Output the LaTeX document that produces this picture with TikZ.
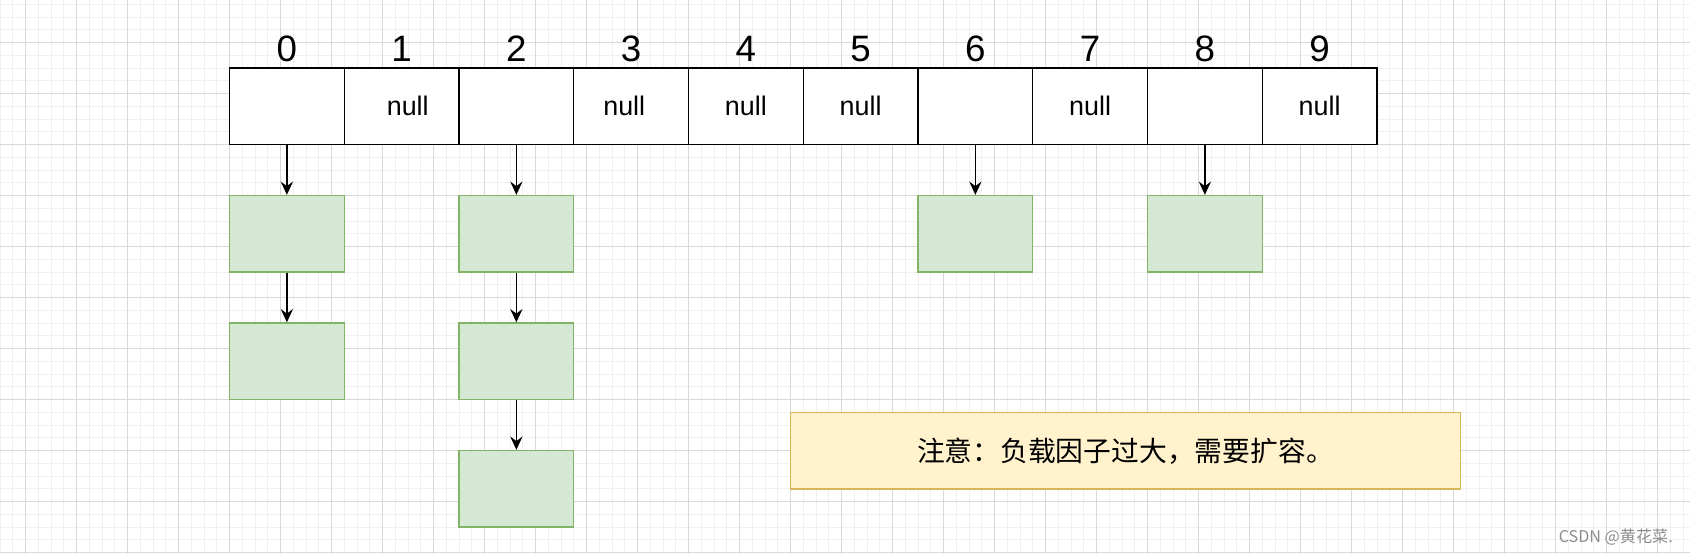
\documentclass[tikz,border=0pt]{standalone}
\usepackage{fontspec}
\setmainfont{Liberation Sans}
\newfontfamily\cjkfont{Noto Sans CJK SC}
\usetikzlibrary{arrows.meta}

\definecolor{gridminor}{HTML}{F0F0F0}
\definecolor{gridmajor}{HTML}{D9D9D9}
\definecolor{entryfill}{HTML}{D5E8D4}
\definecolor{entryline}{HTML}{82B366}
\definecolor{notefill}{HTML}{FFF2CC}
\definecolor{noteline}{HTML}{D6B656}
\definecolor{markgray}{HTML}{8C8C8C}

\begin{document}
\begin{tikzpicture}[x=0.25cm, y=0.25cm, line width=0.7pt,
          cell/.style={draw=black, fill=white, minimum width=2.25cm, minimum height=1.5cm,
            inner sep=0pt, font=\fontsize{15}{18}\selectfont},
          idx/.style={anchor=base, inner sep=0pt, font=\fontsize{20.5}{24}\selectfont},
          entry/.style={draw=entryline, fill=entryfill, minimum width=2.25cm, minimum height=1.5cm,
            inner sep=0pt},
          link/.style={-{Stealth[length=2.6mm, width=2.4mm, inset=0.9mm]}},
          note/.style={draw=noteline, fill=notefill, minimum width=13.125cm, minimum height=1.5cm,
            inner sep=0pt, font=\cjkfont\fontsize{15.5}{18}\selectfont},
          wmark/.style={anchor=base, inner sep=0pt, text=markgray, font=\cjkfont\fontsize{9}{11}\selectfont},
        ]
          \useasboundingbox (0,0) rectangle (132.55,-43.45);
          \fill[white] (0,0) rectangle (132.55,-43.45);
          % background grid
          \begin{scope}
            \clip (0,0) rectangle (132.55,-43.45);
            \draw[gridminor, line width=0.5pt, yshift=-0.0825cm] (-1,-45) grid[step=1] (134,1);
            \draw[gridmajor, line width=0.5pt, shift={(2,-3.33)}] (-4,-44) grid[step=4] (132,4);
          \end{scope}
          % table slots
          \node[cell] (c0) at ( 22.5, -8.33) {};
          \node[cell] (c1) at ( 31.5, -8.33) {\hspace*{0.24cm}null};
          \node[cell] (c2) at ( 40.5, -8.33) {};
          \node[cell] (c3) at ( 49.5, -8.33) {null\hspace*{0.27cm}};
          \node[cell] (c4) at ( 58.5, -8.33) {null};
          \node[cell] (c5) at ( 67.5, -8.33) {null};
          \node[cell] (c6) at ( 76.5, -8.33) {};
          \node[cell] (c7) at ( 85.5, -8.33) {null};
          \node[cell] (c8) at ( 94.5, -8.33) {};
          \node[cell] (c9) at (103.5, -8.33) {null};
          \foreach \i in {0,...,9}
            \node[idx] (n\i) at (22.5+9*\i, -4.84) {\i};
          % chained entries
          \node[entry] (b0a) at (22.5, -18.33) {};
          \node[entry] (b0b) at (22.5, -28.33) {};
          \node[entry] (b2a) at (40.5, -18.33) {};
          \node[entry] (b2b) at (40.5, -28.33) {};
          \node[entry] (b2c) at (40.5, -38.33) {};
          \node[entry] (b6a) at (76.5, -18.33) {};
          \node[entry] (b8a) at (94.5, -18.33) {};
          \draw[link] (c0)  -- (b0a);
          \draw[link] (b0a) -- (b0b);
          \draw[link] (c2)  -- (b2a);
          \draw[link] (b2a) -- (b2b);
          \draw[link] (b2b) -- (b2c);
          \draw[link] (c6)  -- (b6a);
          \draw[link] (c8)  -- (b8a);
          \node[note] (note) at (88.27, -35.35) {注意：负载因子过大，需要扩容。};
          \node[wmark] (wm) at (126.73, -42.56) {CSDN @黄花菜.};
        \end{tikzpicture}
\end{document}
